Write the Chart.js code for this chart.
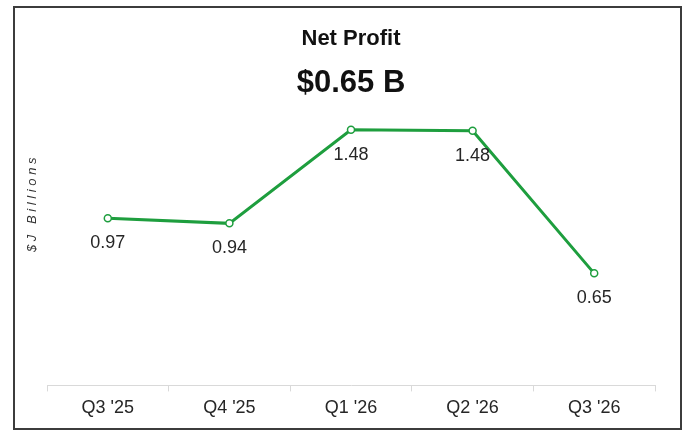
<!DOCTYPE html>
<html>
<head>
<meta charset="utf-8">
<script src="https://cdn.jsdelivr.net/npm/chart.js@4/dist/chart.umd.min.js"></script>
<style>
html,body{margin:0;padding:0;background:#fff;}
canvas{display:block;}
</style>
</head>
<body>
<canvas id="c" width="687" height="431"></canvas>
<script>
const categories = ["Q3 '25", "Q4 '25", "Q1 '26", "Q2 '26", "Q3 '26"];
const netProfit = [0.97, 0.94, 1.483, 1.477, 0.65];
const chartTitle = "Net Profit";
const chartSubtitle = "$0.65 B";
const yAxisTitle = "$J Billions";

const GREEN = '#1e9e3e';
const FONT = '"Liberation Sans", Arial, sans-serif';

const framePlugin = {
  id: 'frame',
  beforeDraw(chart) {
    const ctx = chart.ctx;
    ctx.save();
    ctx.fillStyle = '#fff';
    ctx.fillRect(0, 0, chart.width, chart.height);
    ctx.strokeStyle = '#3c3c3c';
    ctx.lineWidth = 2;
    ctx.strokeRect(14, 7, 667, 422);
    ctx.restore();
  },
  afterDraw(chart) {
    const ctx = chart.ctx;
    ctx.save();
    ctx.translate(32, 205);
    ctx.rotate(-Math.PI / 2);
    ctx.font = 'italic 13px ' + FONT;
    if ('letterSpacing' in ctx) ctx.letterSpacing = '3.6px';
    ctx.textAlign = 'center';
    ctx.textBaseline = 'middle';
    ctx.fillStyle = '#333';
    ctx.fillText(yAxisTitle, 2, 0);
    ctx.restore();
  }
};

const labelPlugin = {
  id: 'pointLabels',
  afterDatasetsDraw(chart) {
    const ctx = chart.ctx;
    const meta = chart.getDatasetMeta(0);
    ctx.save();
    ctx.font = '18px ' + FONT;
    ctx.fillStyle = '#262626';
    ctx.textAlign = 'center';
    ctx.textBaseline = 'middle';
    meta.data.forEach((pt, i) => {
      ctx.fillText(netProfit[i].toFixed(2), pt.x, pt.y + 25);
    });
    ctx.restore();
  }
};

new Chart(document.getElementById('c'), {
  type: 'line',
  data: {
    labels: categories,
    datasets: [{
      data: netProfit,
      borderColor: GREEN,
      borderWidth: 3,
      pointRadius: 3.5,
      pointBorderWidth: 1.5,
      pointBackgroundColor: '#fff',
      pointBorderColor: GREEN,
      tension: 0,
      fill: false
    }]
  },
  options: {
    responsive: false,
    animation: false,
    layout: { padding: { left: 47, right: 32, top: 8, bottom: 6 } },
    plugins: {
      legend: { display: false },
      tooltip: { enabled: false },
      title: {
        display: true,
        text: chartTitle,
        color: '#111',
        font: { family: FONT, size: 22, weight: 'bold', lineHeight: 1.2 },
        padding: { top: 18, bottom: 0 }
      },
      subtitle: {
        display: true,
        text: chartSubtitle,
        color: '#111',
        font: { family: FONT, size: 31, weight: 'bold', lineHeight: 1.2 },
        padding: { top: 12, bottom: 8 }
      }
    },
    scales: {
      x: {
        offset: true,
        grid: {
          display: true,
          drawOnChartArea: false,
          drawTicks: true,
          tickLength: 6,
          color: '#d9d9d9',
          offset: true
        },
        border: { display: true, color: '#d9d9d9', width: 1 },
        ticks: {
          color: '#262626',
          padding: 6,
          font: { family: FONT, size: 18 },
          maxRotation: 0
        }
      },
      y: {
        display: false,
        min: 0,
        max: 1.6
      }
    }
  },
  plugins: [framePlugin, labelPlugin]
});
</script>
</body>
</html>
